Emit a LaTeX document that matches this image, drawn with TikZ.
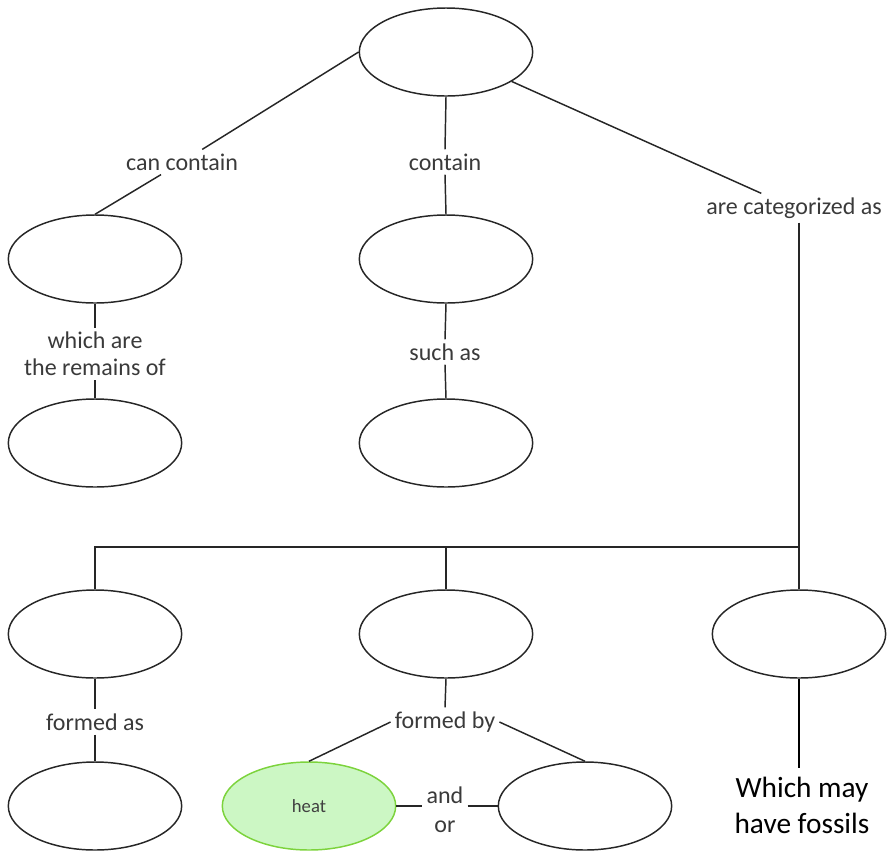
\documentclass[tikz,border=0pt]{standalone}
\usepackage{fontspec}
\setmainfont{Carlito}
\usepackage{tikz}
\usetikzlibrary{shapes.geometric, positioning, calc}
\definecolor{linkgray}{HTML}{3A3A3A}
\definecolor{heatfill}{HTML}{CCF7C4}
\definecolor{heatdraw}{HTML}{7CD33C}
\tikzset{
  concept/.style={ellipse, minimum width=130pt, minimum height=66pt, inner sep=0pt, draw=black!85, line width=1.1pt, fill=white},
  heatconcept/.style={concept, draw=heatdraw, fill=heatfill, font=\fontsize{14}{16}\selectfont, text=black!75},
  linkword/.style={align=center, text=linkgray, font=\fontsize{18}{20}\selectfont, inner sep=3pt},
  link/.style={draw=black!85, line width=1.1pt}
}

\begin{document}
\begin{tikzpicture}[x=0.75pt, y=-0.75pt]
    \useasboundingbox (0,0) rectangle (893,851);

    % ==========================================
    % 1. Conceptos (elipses)
    % ==========================================
    \node[concept] (top) at (446, 52) {};

    \node[concept] (fos)  at (95, 259) {};
    \node[concept] (min)  at (446, 259) {};
    \node[concept] (org)  at (95, 443) {};
    \node[concept] (ex)   at (446, 443) {};

    \node[concept] (sed)  at (95, 634) {};
    \node[concept] (met)  at (446, 634) {};
    \node[concept] (ign)  at (799, 634) {};

    \node[concept] (lay)  at (95, 806) {};
    \node[heatconcept] (heat) at (309, 806) {heat};
    \node[concept] (pres) at (585, 806) {};

    % ==========================================
    % 2. Palabras de enlace
    % ==========================================
    \node[linkword] (cancont) at (182, 162) {can contain};
    \node[linkword] (cont)    at (445, 162) {contain};
    \node[linkword] (cat)     at (794, 208) {are categorized as};
    \node[linkword] (remains) at (95, 354) {which are\\the remains of};
    \node[linkword] (such)    at (445, 352) {such as};
    \node[linkword] (fas)     at (95, 722) {formed as};
    \node[linkword] (fby)     at (445, 722) {formed by};
    \node[linkword, font=\fontsize{18}{22}\selectfont] (andor) at (445, 810) {and\\or};

    % Nota en negro (otra letra)
    \node[align=center, font=\fontsize{22}{27}\selectfont, inner sep=6pt] (note) at (802, 805) {Which may\\have fossils};

    % ==========================================
    % 3. Conexiones
    % ==========================================
    \draw[link] (top.west) -- (cancont);
    \draw[link] (cancont) -- (fos.north);
    \draw[link] (top.south) -- (cont.north);
    \draw[link] (cont.south) -- (min.north);
    \draw[link] (top) -- (cat);

    \draw[link] (fos.south) -- (remains.north);
    \draw[link] (remains.south) -- (org.north);
    \draw[link] (min.south) -- (such.north);
    \draw[link] (such.south) -- (ex.north);

    % Barra horizontal hacia los tres tipos
    \coordinate (bus) at (0, 547);
    \draw[link] (cat.south -| ign) -- (ign.north);
    \draw[link] (sed.north) -- (sed |- bus) -- (ign |- bus);
    \draw[link] (met.north) -- (met |- bus);

    \draw[link] (sed.south) -- (fas.north);
    \draw[link] (fas.south) -- (lay.north);
    \draw[link] (met.south) -- (fby.north);
    \draw[link] (fby.west) -- (heat.north);
    \draw[link] (fby.east) -- (pres.north);
    \draw[link] (heat.east) -- (andor.west |- heat.east);
    \draw[link] (andor.east |- pres.west) -- (pres.west);

    \draw[line width=1.5pt] (ign.south) -- (ign.south |- note.north);

\end{tikzpicture}
\end{document}
